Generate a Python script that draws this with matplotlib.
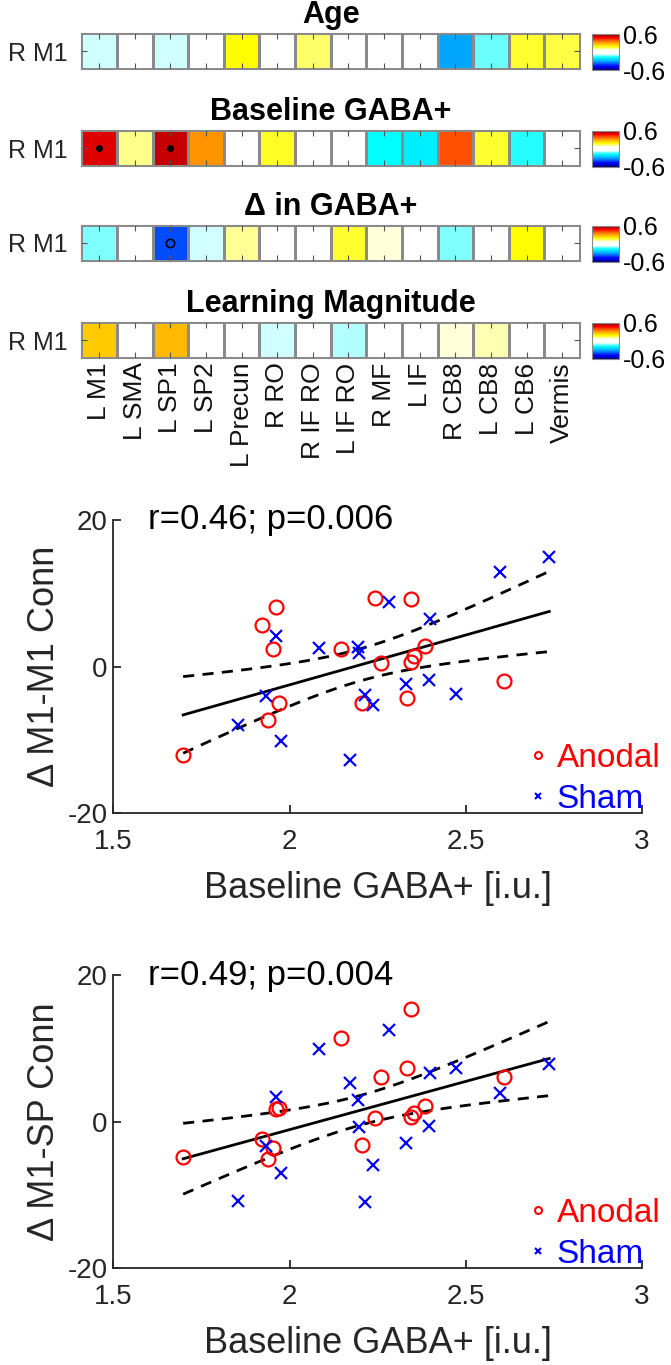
import numpy as np
import matplotlib
matplotlib.use('Agg')
import matplotlib.pyplot as plt
import matplotlib.colors as clr
from matplotlib.lines import Line2D

plt.rcParams['font.family'] = ['Liberation Sans', 'DejaVu Sans']
plt.rcParams['axes.unicode_minus'] = False

regions = ['L M1', 'L SMA', 'L SP1', 'L SP2', 'L Precun', 'R RO', 'R IF RO',
           'L IF RO', 'R MF', 'L IF', 'R CB8', 'L CB8', 'L CB6', 'Vermis']
row_label = 'R M1'

r_age = [-0.08, 0.0, -0.08, 0.0, 0.18, 0.0, 0.127, 0.0, 0.0, 0.0, -0.31, -0.13, 0.156, 0.148]
r_base = [0.51, 0.116, 0.53, 0.325, 0.0, 0.164, 0.0, 0.0, -0.18, -0.204, 0.394, 0.156, -0.16, 0.0]
r_dgaba = [-0.12, 0.0, -0.40, -0.08, 0.11, 0.0, 0.0, 0.156, 0.075, 0.0, -0.12, 0.0, 0.18, 0.0]
r_learn = [0.25, 0.0, 0.274, 0.0, 0.0, -0.08, 0.0, -0.095, 0.0, 0.0, 0.075, 0.095, 0.0, 0.0]

heat_titles = ['Age', 'Baseline GABA+', '\u0394 in GABA+', 'Learning Magnitude']
heat_vals = [r_age, r_base, r_dgaba, r_learn]
dots = [[], [0, 2], [], []]       # filled dot (p<0.05)
rings = [[], [], [2], []]         # open ring

# scatter data (same subjects in both plots)
x_anodal = [1.698, 1.921, 1.940, 1.952, 1.962, 1.970, 2.146, 2.206,
            2.243, 2.259, 2.332, 2.344, 2.346, 2.354, 2.384, 2.609]
y1_anodal = [-12.07, 5.66, -7.3, 2.43, 8.08, -5.0, 2.34, -4.93,
             9.3, 0.52, -4.34, 9.17, 0.66, 1.43, 2.8, -1.93]
y2_anodal = [-4.8, -2.4, -5.03, -3.54, 1.68, 1.9, 11.34, -3.17,
             0.45, 6.12, 7.26, 15.37, 0.68, 1.13, 2.13, 6.12]

x_sham = [1.855, 1.934, 1.962, 1.977, 2.083, 2.172, 2.195, 2.198, 2.215,
          2.238, 2.283, 2.330, 2.396, 2.399, 2.472, 2.597, 2.737]
y1_sham = [-7.98, -4.0, 4.2, -10.1, 2.48, -12.75, 2.7, 1.9, -3.9,
           -5.25, 8.75, -2.3, -1.84, 6.44, -3.75, 12.85, 14.98]
y2_sham = [-10.88, -3.3, 3.4, -7.07, 9.84, 5.22, 2.95, -0.73, -11.0,
           -5.94, 12.56, -2.95, -0.59, 6.58, 7.35, 3.85, 7.8]

stats_text = ['r=0.46; p=0.006', 'r=0.49; p=0.004']
ylabels = ['\u0394 M1-M1 Conn', '\u0394 M1-SP Conn']
xlabel = 'Baseline GABA+ [i.u.]'

cmap = clr.LinearSegmentedColormap.from_list('rwb', [
    (0.0, (0, 0, 0.5)), (0.1, (0, 0, 1)), (0.25, (0, 0.7, 1)), (0.35, (0, 1, 1)),
    (0.45, (1, 1, 1)), (0.55, (1, 1, 1)), (0.65, (1, 1, 0)), (0.78, (1, 0.55, 0)),
    (0.9, (1, 0, 0)), (1.0, (0.5, 0, 0))])
norm = clr.Normalize(vmin=-0.6, vmax=0.6)

W, H = 671, 1365
fig = plt.figure(figsize=(W / 100, H / 100), dpi=100)

def fr(left, top, width, height):
    return [left / W, 1 - (top + height) / H, width / W, height / H]

heat_tops = [33.3, 130, 225, 322.3]
for i in range(4):
    ax = fig.add_axes(fr(81.3, heat_tops[i], 498.7, 36))
    vals = np.array(heat_vals[i])[None, :]
    ax.pcolormesh(np.arange(len(regions) + 1), [0, 1], vals, cmap=cmap, norm=norm,
                  edgecolors='#8a8a8a', linewidth=1)
    for j in dots[i]:
        ax.plot(j + 0.5, 0.5, 'o', color='k', markersize=4)
    for j in rings[i]:
        ax.plot(j + 0.5, 0.5, 'o', mfc='none', mec='k', markersize=6, mew=1.2)
    ax.set_xlim(0, len(regions))
    ax.set_ylim(0, 1)
    ax.set_xticks(np.arange(len(regions)) + 0.5)
    ax.set_yticks([0.5])
    ax.set_yticklabels([row_label], fontsize=18, color='#262626')
    ax.tick_params(direction='in', length=4, top=True, right=True, color='#555555', pad=10)
    if i == 3:
        ax.set_xticklabels(regions, rotation=90, fontsize=19, color='#111111')
        ax.tick_params(axis='x', pad=3)
    else:
        ax.set_xticklabels([])
    for s in ax.spines.values():
        s.set_color('#8a8a8a')
    ax.text(0.5, 1.28, heat_titles[i], transform=ax.transAxes, ha='center',
            va='baseline', fontsize=22, fontweight='bold')

    cax = fig.add_axes(fr(592, heat_tops[i] + 0.7, 27, 36))
    cb = fig.colorbar(plt.cm.ScalarMappable(norm=norm, cmap=cmap), cax=cax)
    cb.set_ticks([-0.6, 0.6])
    cb.set_ticklabels(['-0.6', '0.6'])
    cax.tick_params(length=0, labelsize=18, pad=3)
    cb.outline.set_edgecolor('#8a8a8a')

scatter_tops = [520, 975]
y_anodal = [y1_anodal, y2_anodal]
y_sham = [y1_sham, y2_sham]
for k in range(2):
    ax = fig.add_axes(fr(113.4, scatter_tops[k], 528.5, 293.3))
    xa = np.array(x_anodal)
    xs = np.array(x_sham)
    ya = np.array(y_anodal[k])
    ys = np.array(y_sham[k])
    xall = np.concatenate([xa, xs])
    yall = np.concatenate([ya, ys])
    n = len(xall)
    b, a = np.polyfit(xall, yall, 1)
    res = yall - (a + b * xall)
    s = np.sqrt(np.sum(res ** 2) / (n - 2))
    xg = np.linspace(xall.min(), xall.max(), 100)
    yg = a + b * xg
    se = s * np.sqrt(1 / n + (xg - xall.mean()) ** 2 / np.sum((xall - xall.mean()) ** 2))
    t = 2.04
    ax.plot(xg, yg, color='k', lw=2)
    ax.plot(xg, yg + t * se, color='k', lw=2, ls=(0, (4, 3)))
    ax.plot(xg, yg - t * se, color='k', lw=2, ls=(0, (4, 3)))
    ax.plot(xa, ya, 'o', mfc='none', mec='red', markersize=10, mew=1.6, label='Anodal')
    ax.plot(xs, ys, 'x', color='blue', markersize=9, mew=1.6, label='Sham')

    ax.set_xlim(1.5, 3)
    ax.set_ylim(-20, 20)
    ax.set_xticks([1.5, 2, 2.5, 3])
    ax.set_xticklabels(['1.5', '2', '2.5', '3'])
    ax.set_yticks([-20, 0, 20])
    ax.spines['top'].set_visible(False)
    ax.spines['right'].set_visible(False)
    for sp in ['left', 'bottom']:
        ax.spines[sp].set_color('#262626')
        ax.spines[sp].set_linewidth(1.3)
    ax.tick_params(direction='in', length=6, width=1.3, labelsize=20, colors='#262626', pad=4)
    ax.tick_params(axis='x', pad=11)
    ax.set_xlabel(xlabel, fontsize=26, color='#262626', labelpad=12)
    ax.set_ylabel(ylabels[k], fontsize=26, color='#262626', labelpad=4)
    ax.text(0.065, 1.0, stats_text[k], transform=ax.transAxes, ha='left', va='center',
            fontsize=25)
    handles = [Line2D([], [], ls='none', marker='o', mfc='none', mec='red', markersize=5, mew=1.5),
               Line2D([], [], ls='none', marker='x', color='blue', markersize=5, mew=1.5)]
    ax.legend(handles, ['Anodal', 'Sham'], loc='lower right', bbox_to_anchor=(1.06, -0.05),
              frameon=False, fontsize=24, handlelength=0.5, handletextpad=0.3,
              labelspacing=0.3, borderaxespad=0, labelcolor=['red', 'blue'])

fig.savefig('out.png', dpi=100)
